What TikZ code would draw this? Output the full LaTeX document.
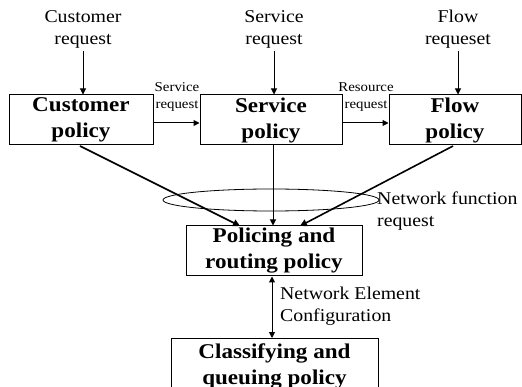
\documentclass[tikz,border=0pt]{standalone}
\usepackage{fontspec}
\setmainfont[FakeStretch=1.1]{Liberation Serif}
\usetikzlibrary{arrows.meta}
\tikzset{
  pbox/.style={draw, line width=1pt, inner sep=0pt, font=\fontsize{21}{26}\selectfont\bfseries, align=center},
  lbl/.style={font=\fontsize{18}{22}\selectfont, align=center, inner sep=0pt},
  small/.style={font=\fontsize{13.5}{17}\selectfont, align=center, inner sep=0pt},
  arr/.style={line width=1pt, -{Triangle[length=6pt,width=6pt]}},
  thk/.style={line width=1.6pt, -{Triangle[length=7pt,width=7pt]}}
}
\begin{document}
\begin{tikzpicture}[x=1pt,y=-1pt]
\useasboundingbox (0,0) rectangle (522,387);
% boxes
\node[pbox, minimum width=144pt, minimum height=50pt] (cust) at (81,120) {Customer\\policy};
\node[pbox, minimum width=142pt, minimum height=50pt] (serv) at (271,120) {Service\\policy};
\node[pbox, minimum width=132pt, minimum height=50pt] (flow) at (455,120) {Flow\\policy};
\node[pbox, minimum width=176pt, minimum height=50pt] (pol) at (274,251) {Policing and\\routing policy};
\node[pbox, minimum width=207pt, minimum height=56pt, anchor=north] (cls) at (274.5,338) {Classifying and\\queuing policy};
% top requests
\node[lbl] (creq) at (83,29) {Customer\\request};
\node[lbl] (sreq) at (274,29) {Service\\request};
\node[lbl] (freq) at (458,29) {Flow\\requeset};
\draw[arr] (83,51) -- (cust.north -| 83,0);
\draw[arr] (274,51) -- (serv.north -| 274,0);
\draw[arr] (458,51) -- (flow.north -| 458,0);
% horizontal arrows
\draw[arr] (cust.east |- 0,123) -- (serv.west |- 0,123);
\draw[arr] (serv.east |- 0,123) -- (flow.west |- 0,123);
\node[small] (l1) at (177,97) {Service\\request};
\node[small] (l2) at (366,97) {Resource\\request};
% ellipse
\draw[line width=0.8pt] (271,200) ellipse [x radius=108pt, y radius=11pt];
\node[lbl, anchor=west, align=left] (nfr) at (377,211) {Network function\\request};
% converging arrows
\draw[thk] (80,146) -- (240,226);
\draw[arr] (serv.south -| 273,0) -- (pol.north -| 273,0);
\draw[thk] (453,146) -- (300,226);
% bottom
\draw[line width=1pt, {Triangle[length=6pt,width=6pt]}-{Triangle[length=6pt,width=6pt]}] (pol.south -| 272,0) -- (cls.north -| 272,0);
\node[lbl, anchor=west, align=left] (nec) at (280,306) {Network Element\\Configuration};
\end{tikzpicture}
\end{document}
